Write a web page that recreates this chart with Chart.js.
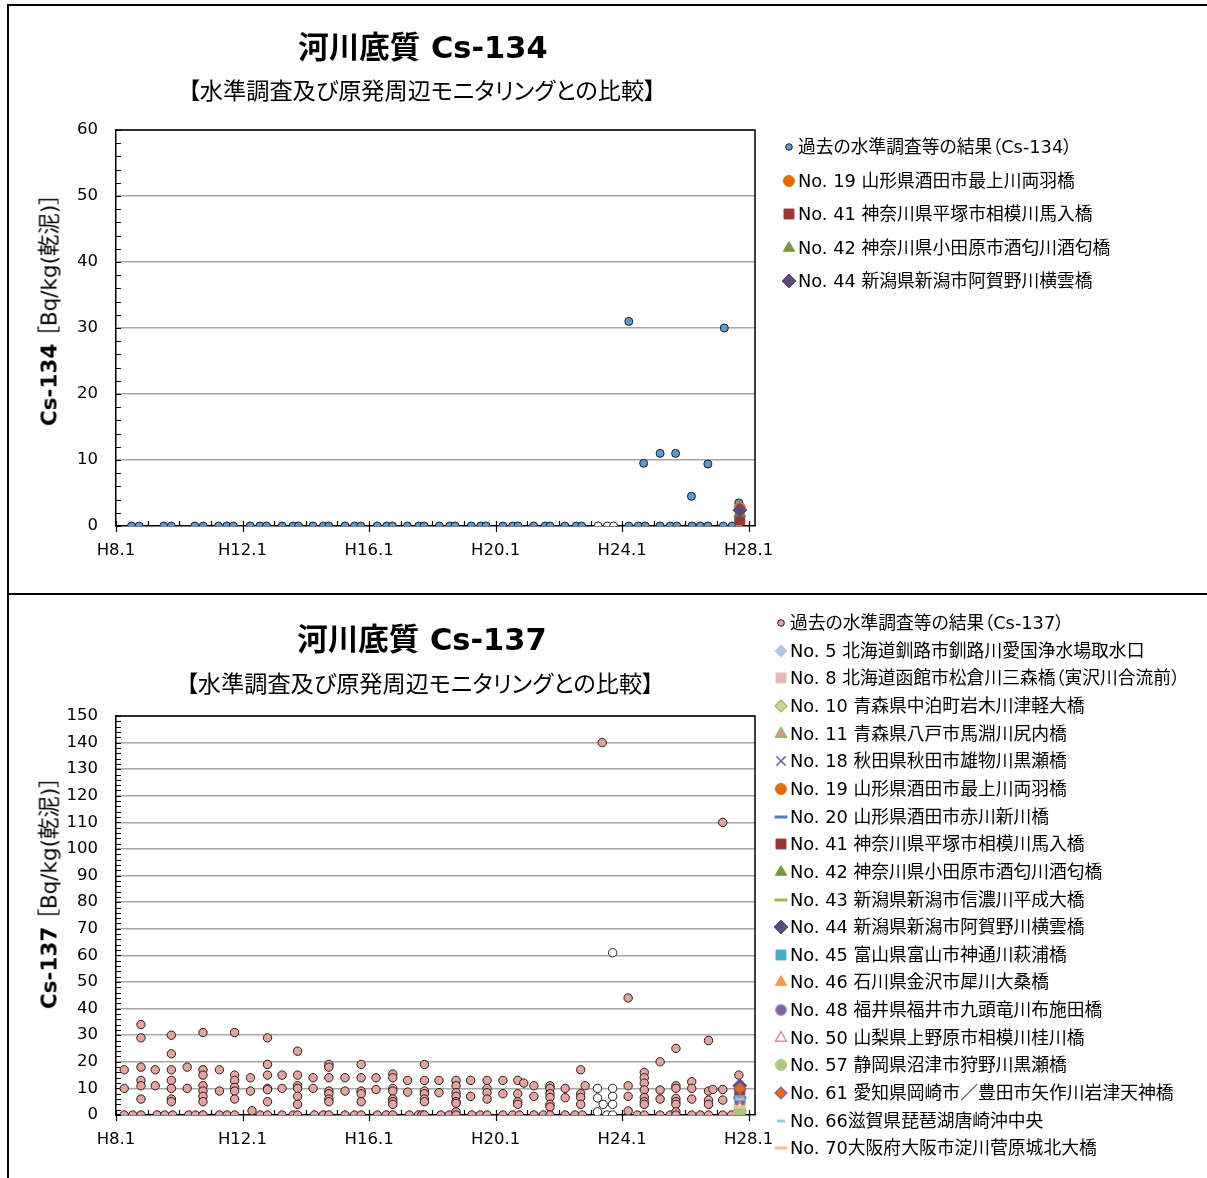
<!DOCTYPE html>
<html lang="ja">
<head>
<meta charset="utf-8">
<title>河川底質 Cs-134 / Cs-137</title>
<script src="https://cdn.jsdelivr.net/npm/chart.js@4.4.1/dist/chart.umd.min.js"></script>
<style>
html, body { margin: 0; padding: 0; background: #fff; }
body { position: relative; width: 1207px; height: 1178px; overflow: hidden;
       font-family: "DejaVu Sans", "Noto Sans CJK JP", sans-serif; color: #000; }
#edge { position: absolute; left: 7px; top: 4px; width: 1220px; height: 1200px;
        border-left: 2px solid #000; border-top: 2px solid #000; }
#sep { position: absolute; left: 7px; top: 593px; width: 1220px; height: 2px; background: #000; }
#c134, #c137 { position: absolute; left: 10px; }
#c134 { top: 7px; }
#c137 { top: 596px; }
.t { position: absolute; white-space: nowrap; transform: translate(-50%, -50%); font-feature-settings: "palt"; }
.main { font-size: 30.5px; font-weight: bold; }
.sub { font-size: 23.2px; }
.ytitle { position: absolute; white-space: nowrap; font-size: 21.5px; font-feature-settings: "palt";
          transform: translate(-50%, -50%) rotate(-90deg); }
.lgrow { position: absolute; height: 24px; line-height: 24px; font-size: 17.8px; white-space: nowrap;
         font-feature-settings: "palt"; }
.lgmark { position: absolute; }
</style>
</head>
<body>
<div id="edge"></div>
<div id="sep"></div>

<canvas id="c134" width="1197" height="585"></canvas>
<canvas id="c137" width="1197" height="582"></canvas>

<div class="t main" style="left:423px;top:45px">河川底質 Cs-134</div>
<div class="t sub" style="left:422px;top:89px">【水準調査及び原発周辺モニタリングとの比較】</div>
<div class="ytitle" style="left:47px;top:310px"><b>Cs-134</b> ［Bq/kg(乾泥)］</div>

<div class="t main" style="left:422px;top:637px">河川底質 Cs-137</div>
<div class="t sub" style="left:420px;top:682px">【水準調査及び原発周辺モニタリングとの比較】</div>
<div class="ytitle" style="left:47px;top:893px"><b>Cs-137</b> ［Bq/kg(乾泥)］</div>

<div id="lg134"></div>
<div id="lg137"></div>

<script>
// ---- data ----
// x = 平成の年 (H8.1 = 8.0)
const yearTicks = [8, 12, 16, 20, 24, 28];
const xMin = 8, xMax = 28.2;

// Cs-134 過去の水準調査等の結果
const cs134PastX = [8.49, 8.73, 9.51, 9.75, 10.49, 10.76, 11.24, 11.50, 11.71, 12.24, 12.55, 12.76,
  13.25, 13.60, 13.77, 14.23, 14.56, 14.73, 15.24, 15.54, 15.74, 16.26, 16.56, 16.74, 17.21, 17.57, 17.74,
  18.22, 18.55, 18.72, 19.23, 19.53, 19.70, 20.23, 20.54, 20.71, 21.20, 21.57, 21.72, 22.19, 22.55, 22.72,
  24.21, 24.51, 24.73, 25.20, 25.52, 25.73, 26.21, 26.47, 26.71, 27.20, 27.48, 27.69,
  24.21, 24.68, 25.20, 25.69, 26.19, 26.71, 27.23, 27.69];
const cs134PastY = [0, 0, 0, 0, 0, 0, 0, 0, 0, 0, 0, 0,
  0, 0, 0, 0, 0, 0, 0, 0, 0, 0, 0, 0, 0, 0, 0,
  0, 0, 0, 0, 0, 0, 0, 0, 0, 0, 0, 0, 0, 0, 0,
  0, 0, 0, 0, 0, 0, 0, 0, 0, 0, 0, 0,
  31, 9.5, 11, 11, 4.5, 9.4, 30, 3.5];
// 白抜きの点
const cs134OpenX = [23.24, 23.53, 23.73];
const cs134OpenY = [0, 0, 0];

// Cs-134 H27秋の調査地点
const specX = 27.72;
const cs134SpecStations = [19, 41, 42, 44];
const cs134SpecY = [2.8, 1.0, 2.0, 2.4];

// Cs-137 過去の水準調査等の結果（調査時期ごとの列）
const cs137ColX = [8.26, 8.53, 8.79, 9.24, 9.30, 9.54, 9.75, 9.79, 10.25, 10.30,
  10.51, 10.75, 11.27, 11.51, 11.75, 12.25, 12.30, 12.56, 12.79, 13.25,
  13.60, 13.74, 14.23, 14.27, 14.55, 14.73, 15.24, 15.54, 15.75, 16.22,
  16.26, 16.54, 16.75, 17.22, 17.27, 17.56, 17.67, 17.75, 18.21, 18.27,
  18.53, 18.75, 19.21, 19.25, 19.51, 19.73, 20.23, 20.54, 20.70, 20.75,
  20.89, 21.21, 21.51, 21.72, 22.20, 22.51, 22.69, 22.74, 22.83, 23.37,
  24.19, 24.48, 24.70, 25.20, 25.52, 25.70, 26.20, 26.47, 26.73, 26.87,
  27.18, 27.46, 27.69];
const cs137ColY = [
  [17, 10, 0], [0], [34, 29, 18, 13, 11, 6, 0], [17, 11], [0], [0], [30, 23, 17, 13, 10, 6, 5], [0], [18, 10], [0],
  [0], [31, 17, 15, 11, 9, 7, 5, 0], [17, 9, 0], [0], [31, 15, 13, 10.4, 9, 6, 0], [14, 9], [1.6], [0], [29, 19, 15, 10, 9.5, 5, 0], [15, 10, 0],
  [0], [24, 15, 11, 10, 7, 4, 0], [14, 10], [0], [0], [19, 18, 14, 9, 8, 6, 5, 0], [14, 9, 0], [0], [19, 14, 9, 8, 5, 0], [14, 9.6],
  [0], [0], [15.4, 14, 10, 9, 6, 5, 4, 0], [13, 8.6], [0], [0], [0], [19, 13, 9, 8, 6, 5, 0], [13, 8.4], [0],
  [0], [13, 11, 8.4, 7, 5, 4.4, 1.2, 0], [13, 7], [0], [0], [13, 10, 8.4, 6, 0], [13, 8, 0], [0], [13, 8, 5, 4], [0],
  [12], [11, 7, 0], [0], [11, 10, 8, 6.6, 4, 3, 0], [10, 6.5, 0], [0], [17, 8, 6.6, 4], [0], [11], [140],
  [44, 11, 7, 1.5], [0], [16, 14, 12, 9.4, 6.6, 5, 4, 0], [20, 9.4, 6, 0], [0], [25, 11, 10, 6.2, 5, 4, 1.2, 0], [12.5, 10, 6, 0], [0], [28, 9, 5.6, 4, 0], [9.6],
  [110, 9.6, 5.6, 0], [0], [15]
];
const cs137OpenX = [23.22, 23.22, 23.22, 23.40, 23.52, 23.70, 23.70, 23.70, 23.70, 23.70];
const cs137OpenY = [10, 6.4, 1.2, 4, 0, 61, 10, 7, 4, 0];

const cs137SpecStations = [5, 8, 10, 11, 18, 19, 20, 41, 42, 43, 44, 45, 46, 48, 50, 57, 61, 66, 70];
const cs137SpecY = [6.0, 4.5, 1.0, 3.0, 5.0, 9.5, 6.5, 8.0, 2.0, 1.5, 11.0, 5.5, 3.5, 5.0, 2.5, 1.0, 10.0, 6.0, 3.0];

const stationNames = {
  5: "No. 5 北海道釧路市釧路川愛国浄水場取水口",
  8: "No. 8 北海道函館市松倉川三森橋（寅沢川合流前）",
  10: "No. 10 青森県中泊町岩木川津軽大橋",
  11: "No. 11 青森県八戸市馬淵川尻内橋",
  18: "No. 18 秋田県秋田市雄物川黒瀬橋",
  19: "No. 19 山形県酒田市最上川両羽橋",
  20: "No. 20 山形県酒田市赤川新川橋",
  41: "No. 41 神奈川県平塚市相模川馬入橋",
  42: "No. 42 神奈川県小田原市酒匂川酒匂橋",
  43: "No. 43 新潟県新潟市信濃川平成大橋",
  44: "No. 44 新潟県新潟市阿賀野川横雲橋",
  45: "No. 45 富山県富山市神通川萩浦橋",
  46: "No. 46 石川県金沢市犀川大桑橋",
  48: "No. 48 福井県福井市九頭竜川布施田橋",
  50: "No. 50 山梨県上野原市相模川桂川橋",
  57: "No. 57 静岡県沼津市狩野川黒瀬橋",
  61: "No. 61 愛知県岡崎市／豊田市矢作川岩津天神橋",
  66: "No. 66滋賀県琵琶湖唐崎沖中央",
  70: "No. 70大阪府大阪市淀川菅原城北大橋"
};

// ---- styles ----
const FONT = '"DejaVu Sans", "Noto Sans CJK JP", sans-serif';
const OUTLINE = "#1e1e1e";
const stationStyle = {
  5:  { shape: "rectRot", fill: "#b4c6e7", stroke: "#b4c6e7", r: 6, bw: 1 },
  8:  { shape: "rect", fill: "#e6b9b8", stroke: "#e6b9b8", r: 7, bw: 1 },
  10: { shape: "rectRot", fill: "#c3d69b", stroke: "#9bbb59", r: 6, bw: 1.2 },
  11: { shape: "triangle", fill: "#d99694", stroke: "#9bbb59", r: 6.5, bw: 1.5 },
  18: { shape: "crossRot", fill: "#8064a2", stroke: "#8064a2", r: 6.5, bw: 1.5 },
  19: { shape: "circle", fill: "#e46c0a", stroke: "#e46c0a", r: 5.5, bw: 1 },
  20: { shape: "line", fill: "#4f81bd", stroke: "#4f81bd", r: 6.5, bw: 3 },
  41: { shape: "rect", fill: "#953735", stroke: "#953735", r: 7, bw: 1 },
  42: { shape: "triangle", fill: "#77933c", stroke: "#77933c", r: 6.5, bw: 1 },
  43: { shape: "line", fill: "#9bbb59", stroke: "#9bbb59", r: 6.5, bw: 3 },
  44: { shape: "rectRot", fill: "#604a7b", stroke: "#604a7b", r: 7, bw: 1 },
  45: { shape: "rect", fill: "#4bacc6", stroke: "#4bacc6", r: 7, bw: 1 },
  46: { shape: "triangle", fill: "#f79646", stroke: "#f79646", r: 6.5, bw: 1 },
  48: { shape: "circle", fill: "#8064a2", stroke: "#b3a2c7", r: 5.5, bw: 1.2 },
  50: { shape: "triangle", fill: "#ffffff", stroke: "#d99694", r: 6.5, bw: 1.5 },
  57: { shape: "circle", fill: "#a9c97e", stroke: "#a9c97e", r: 5.5, bw: 1 },
  61: { shape: "rectRot", fill: "#e46c0a", stroke: "#8064a2", r: 6, bw: 1.2 },
  66: { shape: "line", fill: "#93cddd", stroke: "#93cddd", r: 4, bw: 3 },
  70: { shape: "line", fill: "#fabf8f", stroke: "#fabf8f", r: 6.5, bw: 3 }
};
const pastStyle134 = { shape: "circle", fill: "#5b9bd5", stroke: OUTLINE, r: 4, bw: 1 };
const pastStyle137 = { shape: "circle", fill: "#e6a3a0", stroke: OUTLINE, r: 4.2, bw: 1 };

Chart.defaults.font.family = FONT;
Chart.defaults.color = "#000";

function pts(xs, ys) {
  return xs.map((x, i) => ({ x: x, y: ys[i] }));
}

function pointSet(label, data, st, order) {
  return {
    label: label, data: data, order: order,
    pointStyle: st.shape, pointRadius: st.r, pointHoverRadius: st.r,
    backgroundColor: st.fill, borderColor: st.stroke, borderWidth: st.bw,
    showLine: false
  };
}

// 枠・目盛り線（内向き）
const framePlugin = {
  id: "frame",
  beforeDatasetsDraw(chart) {
    const { ctx, chartArea: a, scales } = chart;
    const x = scales.x, y = scales.y;
    ctx.save();
    ctx.strokeStyle = "#000";
    ctx.lineWidth = 1.5;
    ctx.beginPath();
    ctx.moveTo(a.left, a.top);
    ctx.lineTo(a.right, a.top);
    ctx.lineTo(a.right, a.bottom);
    ctx.stroke();
    ctx.lineWidth = 1.2;
    ctx.beginPath();
    for (let v = y.min; v <= y.max; v += 2) {
      const p = Math.round(y.getPixelForValue(v)) + 0.5;
      ctx.moveTo(a.left, p);
      ctx.lineTo(a.left + 5, p);
    }
    for (let v = Math.ceil(x.min); v <= x.max; v += 1) {
      const p = Math.round(x.getPixelForValue(v)) + 0.5;
      const major = yearTicks.includes(v);
      ctx.moveTo(p, a.bottom - 5);
      ctx.lineTo(p, a.bottom + (major ? 6 : 0));
    }
    ctx.stroke();
    ctx.restore();
  }
};

function makeChart(id, yMax, padTop, padBottom, datasets) {
  return new Chart(document.getElementById(id), {
    type: "scatter",
    data: { datasets: datasets },
    options: {
      responsive: false, animation: false, events: [],
      layout: { padding: { left: 46, top: padTop, right: 452, bottom: padBottom } },
      plugins: { legend: { display: false }, tooltip: { enabled: false } },
      scales: {
        x: {
          type: "linear", min: xMin, max: xMax,
          afterBuildTicks: s => { s.ticks = yearTicks.map(v => ({ value: v })); },
          afterFit: s => { s.height = 40; },
          grid: { display: true, drawOnChartArea: false, drawTicks: false },
          border: { display: true, color: "#000", width: 1.5 },
          ticks: { autoSkip: false, maxRotation: 0, padding: 15, color: "#000",
                   font: { size: 16.5 }, callback: v => "H" + v + ".1" }
        },
        y: {
          min: 0, max: yMax,
          afterFit: s => { s.width = 60; },
          ticks: { stepSize: 10, padding: 18, color: "#000", font: { size: 16.5 } },
          grid: { color: c => (c.tick && c.tick.value === 0) ? "rgba(0,0,0,0)" : "#a6a6a6",
                  lineWidth: 1.5, drawTicks: false },
          border: { display: true, color: "#000", width: 1.5 }
        }
      }
    },
    plugins: [framePlugin]
  });
}

// ---- Cs-134 ----
const ds134 = [];
const n134 = cs134SpecStations.length + 2;
ds134.push(pointSet("過去の水準調査等の結果（Cs-134）", pts(cs134PastX, cs134PastY), pastStyle134, n134));
ds134.push(pointSet("", pts(cs134OpenX, cs134OpenY), { shape: "circle", fill: "#ffffff", stroke: OUTLINE, r: 4, bw: 1 }, n134 - 1));
cs134SpecStations.forEach((no, i) => {
  ds134.push(pointSet(stationNames[no], [{ x: specX, y: cs134SpecY[i] }], stationStyle[no], n134 - 2 - i));
});
makeChart("c134", 60, 123, 26, ds134);

// ---- Cs-137 ----
const cs137PastX = [], cs137PastY = [];
cs137ColX.forEach((x, i) => cs137ColY[i].forEach(v => { cs137PastX.push(x); cs137PastY.push(v); }));
const ds137 = [];
const n137 = cs137SpecStations.length + 2;
ds137.push(pointSet("過去の水準調査等の結果（Cs-137）", pts(cs137PastX, cs137PastY), pastStyle137, n137));
ds137.push(pointSet("", pts(cs137OpenX, cs137OpenY), { shape: "circle", fill: "#ffffff", stroke: OUTLINE, r: 4.2, bw: 1 }, n137 - 1));
cs137SpecStations.forEach((no, i) => {
  ds137.push(pointSet(stationNames[no], [{ x: specX, y: cs137SpecY[i] }], stationStyle[no], n137 - 2 - i));
});
makeChart("c137", 150, 120, 23, ds137);

// ---- legends (HTML, markers drawn with Chart.js helpers) ----
function drawMarker(cv, st) {
  const ctx = cv.getContext("2d");
  ctx.fillStyle = st.fill;
  ctx.strokeStyle = st.stroke;
  ctx.lineWidth = st.bw;
  const h = Chart.helpers;
  if (h && h.drawPoint) {
    h.drawPoint(ctx, { pointStyle: st.shape, radius: st.r, rotation: 0, borderWidth: st.bw }, 10, 10);
  } else {
    ctx.beginPath(); ctx.arc(10, 10, st.r, 0, Math.PI * 2); ctx.fill(); ctx.stroke();
  }
}

function buildLegend(holderId, mx, y0, step, items) {
  const holder = document.getElementById(holderId);
  items.forEach((it, i) => {
    const y = y0 + i * step;
    const cv = document.createElement("canvas");
    cv.width = 20; cv.height = 20;
    cv.className = "lgmark";
    cv.style.left = (mx - 10) + "px";
    cv.style.top = (y - 10) + "px";
    holder.appendChild(cv);
    drawMarker(cv, it.style);
    const row = document.createElement("div");
    row.className = "lgrow";
    row.style.left = (mx + 9) + "px";
    row.style.top = (y - 12) + "px";
    row.textContent = it.label;
    holder.appendChild(row);
  });
}

const lgPast134 = { shape: "circle", fill: "#5b9bd5", stroke: OUTLINE, r: 3.3, bw: 1 };
const lgPast137 = { shape: "circle", fill: "#e6a3a0", stroke: OUTLINE, r: 3.3, bw: 1 };
buildLegend("lg134", 789, 147, 33.5,
  [{ label: "過去の水準調査等の結果（Cs-134）", style: lgPast134 }]
    .concat(cs134SpecStations.map(no => ({ label: stationNames[no], style: stationStyle[no] }))));
buildLegend("lg137", 781, 623, 27.65,
  [{ label: "過去の水準調査等の結果（Cs-137）", style: lgPast137 }]
    .concat(cs137SpecStations.map(no => ({ label: stationNames[no], style: stationStyle[no] }))));
</script>
</body>
</html>
